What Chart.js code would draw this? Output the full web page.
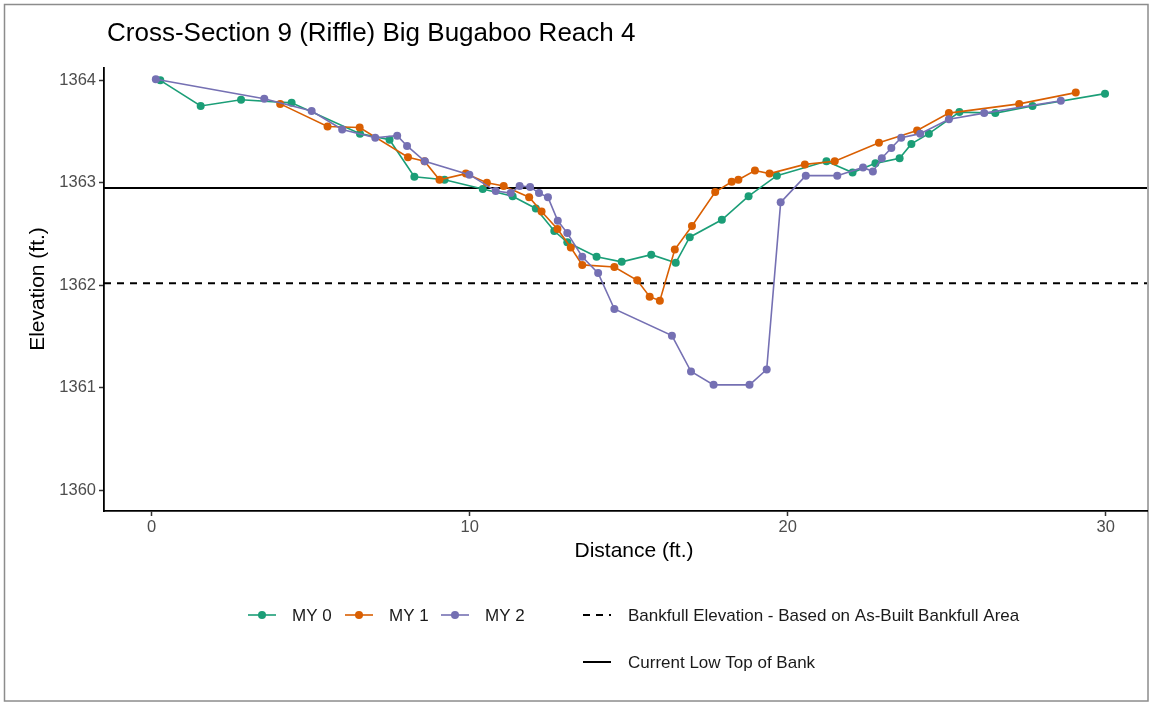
<!DOCTYPE html>
<html>
<head>
<meta charset="utf-8">
<script src="https://cdn.jsdelivr.net/npm/chart.js@4.4.1/dist/chart.umd.min.js"></script>
<style>
  body { margin: 0; background: #fff; }
  #wrap { width: 1151px; height: 704px; position: relative; }
</style>
</head>
<body>
<div id="wrap"><canvas id="xsChart"></canvas></div>
<script>
// MY 0 survey
const my0Dist = [0.27, 1.54, 2.81, 4.40, 6.55, 7.48, 8.26, 9.21, 10.41, 11.35, 12.08, 12.66, 13.07, 13.99, 14.78, 15.71, 16.48, 16.92, 17.93, 18.77, 19.66, 21.22, 22.04, 22.76, 23.52, 23.89, 24.44, 25.40, 26.53, 27.70, 29.98];
const my0Elev = [1364.00, 1363.75, 1363.81, 1363.78, 1363.48, 1363.42, 1363.06, 1363.03, 1362.94, 1362.87, 1362.75, 1362.53, 1362.42, 1362.28, 1362.23, 1362.30, 1362.22, 1362.47, 1362.64, 1362.87, 1363.07, 1363.21, 1363.10, 1363.19, 1363.24, 1363.38, 1363.48, 1363.69, 1363.68, 1363.75, 1363.87];

// MY 1 survey
const my1Dist = [4.04, 5.53, 6.54, 8.06, 8.58, 9.05, 9.88, 10.54, 11.07, 11.87, 12.26, 12.76, 13.18, 13.54, 14.55, 15.27, 15.66, 15.98, 16.45, 16.99, 17.72, 18.24, 18.45, 18.97, 19.43, 20.54, 21.48, 22.87, 24.07, 25.07, 27.28, 29.06];
const my1Elev = [1363.77, 1363.55, 1363.54, 1363.25, 1363.21, 1363.03, 1363.09, 1363.00, 1362.97, 1362.86, 1362.72, 1362.55, 1362.37, 1362.20, 1362.18, 1362.05, 1361.89, 1361.85, 1362.35, 1362.58, 1362.91, 1363.01, 1363.03, 1363.12, 1363.09, 1363.18, 1363.21, 1363.39, 1363.51, 1363.68, 1363.77, 1363.88];

// MY 2 survey
const my2Dist = [0.13, 3.54, 5.03, 5.99, 7.03, 7.72, 8.03, 8.59, 9.99, 10.82, 11.29, 11.57, 11.90, 12.18, 12.46, 12.77, 13.07, 13.54, 14.04, 14.55, 16.36, 16.96, 17.67, 18.80, 19.34, 19.78, 20.57, 21.56, 22.37, 22.68, 22.96, 23.26, 23.57, 24.17, 25.07, 26.18, 28.59];
const my2Elev = [1364.01, 1363.82, 1363.70, 1363.52, 1363.44, 1363.46, 1363.36, 1363.21, 1363.08, 1362.92, 1362.90, 1362.97, 1362.96, 1362.90, 1362.86, 1362.63, 1362.51, 1362.28, 1362.12, 1361.77, 1361.51, 1361.16, 1361.03, 1361.03, 1361.18, 1362.81, 1363.07, 1363.07, 1363.15, 1363.11, 1363.24, 1363.34, 1363.44, 1363.48, 1363.62, 1363.68, 1363.80];

const bankfullElev = 1362.02;
const lowTopOfBank = 1362.95;

const xTicks = [0, 10, 20, 30];
const yTicks = [1360, 1361, 1362, 1363, 1364];
const xMin = -1.5, xMax = 31.3;
const yMin = 1359.8, yMax = 1364.12;

const seriesNames = ["MY 0", "MY 1", "MY 2"];
const seriesColors = ["#1B9E77", "#D95F02", "#7570B3"];
const refNames = ["Bankfull Elevation - Based on As-Built Bankfull Area", "Current Low Top of Bank"];

const FONT = "'Liberation Sans', Arial, Helvetica, sans-serif";
Chart.defaults.font.family = FONT;

function toPoints(xs, ys) {
  return xs.map((x, i) => ({ x: x, y: ys[i] }));
}

function surveySet(i, xs, ys) {
  return {
    label: seriesNames[i],
    data: toPoints(xs, ys),
    showLine: true,
    borderColor: seriesColors[i],
    backgroundColor: seriesColors[i],
    pointBackgroundColor: seriesColors[i],
    pointBorderWidth: 0,
    pointRadius: 4,
    borderWidth: 1.6,
    order: 2 - i,
  };
}

function refSet(label, y, dash) {
  return {
    label: label,
    data: [{ x: xMin, y: y }, { x: xMax, y: y }],
    showLine: true,
    borderColor: "#000",
    borderWidth: 2,
    borderDash: dash,
    pointRadius: 0,
    order: 5,
  };
}

// title, axis titles, legend and outer frame drawn on the canvas
const decorPlugin = {
  id: "decor",
  beforeDraw(chart) {
    const c = chart.ctx;
    c.save();
    c.fillStyle = "#fff";
    c.fillRect(0, 0, chart.width, chart.height);
    c.strokeStyle = "#8c8c8c";
    c.lineWidth = 1.5;
    c.strokeRect(4.5, 4.5, 1143.5, 696.5);
    c.restore();
  },
  afterDraw(chart) {
    const c = chart.ctx;
    c.save();
    c.fillStyle = "#000";
    c.textBaseline = "middle";
    c.font = "26px " + FONT;
    c.textAlign = "left";
    c.fillText("Cross-Section 9 (Riffle) Big Bugaboo Reach 4", 107, 34);

    c.font = "21px " + FONT;
    c.textAlign = "center";
    c.fillText("Distance (ft.)", 634, 551);
    c.translate(38, 289);
    c.rotate(-Math.PI / 2);
    c.fillText("Elevation (ft.)", 0, 0);
    c.restore();

    c.save();
    c.font = "17px " + FONT;
    c.textBaseline = "middle";
    c.textAlign = "left";
    const row1 = 615, row2 = 662;
    const keys = [248, 345, 441];
    keys.forEach((x0, i) => {
      c.strokeStyle = seriesColors[i];
      c.fillStyle = seriesColors[i];
      c.lineWidth = 1.6;
      c.beginPath();
      c.moveTo(x0, row1);
      c.lineTo(x0 + 28, row1);
      c.stroke();
      c.beginPath();
      c.arc(x0 + 14, row1, 4, 0, Math.PI * 2);
      c.fill();
      c.fillStyle = "#1a1a1a";
      c.fillText(seriesNames[i], x0 + 44, row1 + 1);
    });
    c.strokeStyle = "#000";
    c.lineWidth = 2;
    c.setLineDash([7, 6]);
    c.beginPath();
    c.moveTo(583, row1);
    c.lineTo(611, row1);
    c.stroke();
    c.setLineDash([]);
    c.beginPath();
    c.moveTo(583, row2);
    c.lineTo(611, row2);
    c.stroke();
    c.fillStyle = "#1a1a1a";
    c.fillText(refNames[0], 628, row1 + 1);
    c.fillText(refNames[1], 628, row2 + 1);
    c.restore();
  },
};

const ctx = document.getElementById("xsChart");
new Chart(ctx, {
  type: "scatter",
  data: {
    datasets: [
      surveySet(0, my0Dist, my0Elev),
      surveySet(1, my1Dist, my1Elev),
      surveySet(2, my2Dist, my2Elev),
      refSet(refNames[0], bankfullElev, [7, 6]),
      refSet(refNames[1], lowTopOfBank, []),
    ],
  },
  options: {
    responsive: true,
    maintainAspectRatio: false,
    animation: false,
    layout: { padding: { top: 68, left: 0, right: 0, bottom: 0 } },
    plugins: {
      legend: { display: false },
      tooltip: { enabled: false },
    },
    scales: {
      x: {
        type: "linear",
        min: xMin,
        max: xMax,
        afterFit: (scale) => { scale.height = 193; },
        afterBuildTicks: (scale) => { scale.ticks = xTicks.map((v) => ({ value: v })); },
        ticks: { color: "#4d4d4d", font: { size: 16.5 }, padding: 2, maxRotation: 0, callback: (v) => String(v) },
        grid: { drawOnChartArea: false, drawTicks: true, tickLength: 5, tickColor: "#333", tickWidth: 1.5 },
        border: { display: true, color: "#000", width: 1.8 },
      },
      y: {
        type: "linear",
        min: yMin,
        max: yMax,
        afterFit: (scale) => { scale.width = 104; },
        afterBuildTicks: (scale) => { scale.ticks = yTicks.map((v) => ({ value: v })); },
        ticks: { color: "#4d4d4d", font: { size: 16.5 }, padding: 3, callback: (v) => String(v) },
        grid: { drawOnChartArea: false, drawTicks: true, tickLength: 5, tickColor: "#333", tickWidth: 1.5 },
        border: { display: true, color: "#000", width: 1.8 },
      },
    },
  },
  plugins: [decorPlugin],
});
</script>
</body>
</html>
